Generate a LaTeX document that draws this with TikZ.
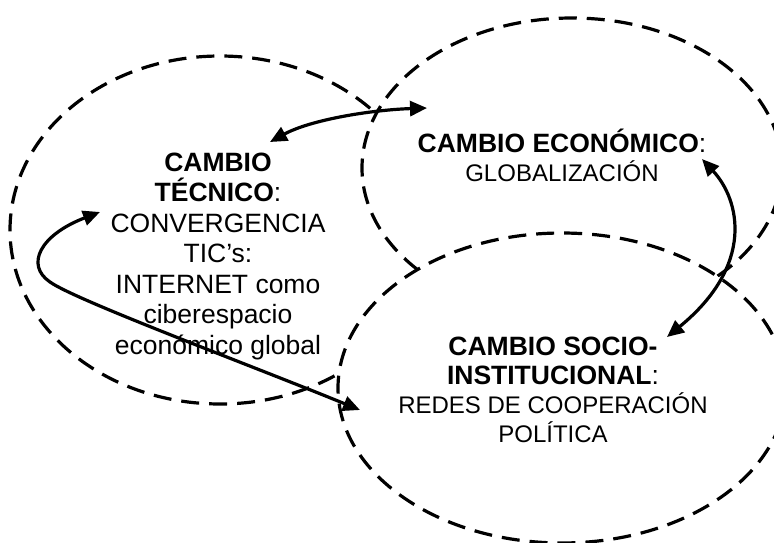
\documentclass[tikz,border=0pt]{standalone}
\usepackage{fontspec}
\setmainfont{Liberation Sans}
\usetikzlibrary{arrows.meta,shapes.geometric}
\newcommand{\smallf}{\fontsize{24}{28}\selectfont}
\begin{document}
\begin{tikzpicture}[x=1pt,y=-1pt,
  zone/.style={ellipse, draw, fill=white, line width=3.2pt, dash pattern=on 18pt off 10pt, inner sep=0pt},
  lbl/.style={align=center, inner sep=0pt},
  link/.style={line width=3.2pt, {Triangle[length=17pt,width=15pt]}-{Triangle[length=17pt,width=15pt]}}
]
\useasboundingbox (0,0) rectangle (774,543);
\node[zone, minimum width=420pt, minimum height=348pt] (E1) at (220,230) {};
\node[zone, minimum width=420pt, minimum height=300pt] (E2) at (572,168) {};
\node[zone, minimum width=448pt, minimum height=310pt] (E3) at (562,388) {};

\node[lbl, font=\fontsize{26.5}{30.5}\selectfont] (tec) at (218,256)
  {\textbf{CAMBIO}\\\textbf{TÉCNICO}:\\CONVERGENCIA\\TIC’s:\\INTERNET como\\ciberespacio\\económico global};
\node[lbl, font=\fontsize{26.5}{29}\selectfont] (eco) at (562,155)
  {\textbf{CAMBIO ECONÓMICO}:\\\smallf GLOBALIZACIÓN};
\node[lbl, font=\fontsize{26.5}{29}\selectfont] (soc) at (553,390)
  {\textbf{CAMBIO SOCIO-}\\\textbf{INSTITUCIONAL}:\\\smallf REDES DE COOPERACIÓN\\\smallf POLÍTICA};

\coordinate (a1) at (270,142);
\coordinate (a2) at (427,108);
\coordinate (b1) at (702,159);
\coordinate (b2) at (667,337);
\coordinate (c1) at (100,212);
\coordinate (cm) at (50,282);
\coordinate (c2) at (360,410);

\draw[link] (a1) .. controls (310,120) and (370,110) .. (a2);
\draw[link] (b1) .. controls (740,200) and (755,265) .. (b2);
\draw[link] (c1) .. controls (40,235) and (25,265) .. (cm) .. controls (75,300) and (250,365) .. (c2);
\end{tikzpicture}
\end{document}
